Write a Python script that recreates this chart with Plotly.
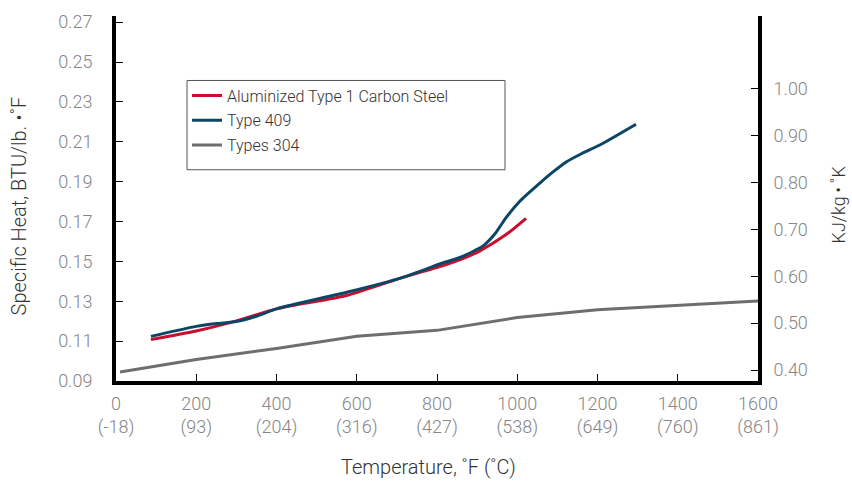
import plotly.graph_objects as go

# ---------------- data ----------------
temp_f_ticks = [0, 200, 400, 600, 800, 1000, 1200, 1400, 1600]
temp_c_labels = ["(-18)", "(93)", "(204)", "(316)", "(427)", "(538)", "(649)", "(760)", "(861)"]
btu_ticks = [0.09, 0.11, 0.13, 0.15, 0.17, 0.19, 0.21, 0.23, 0.25, 0.27]
kj_ticks = [0.40, 0.50, 0.60, 0.70, 0.80, 0.90, 1.00]

alum_x = [87, 200, 287, 402, 575, 715, 807, 860, 907, 974, 1022]
alum_y = [0.1108, 0.1151, 0.1194, 0.1263, 0.1329, 0.1420, 0.1474, 0.1510, 0.1553, 0.1637, 0.1716]

t409_x = [87, 200, 250, 300, 350, 402, 575, 715, 807, 860, 915, 945, 973, 1007, 1057, 1090,
          1123, 1160, 1207, 1296]
t409_y = [0.1124, 0.1174, 0.1188, 0.1198, 0.1225, 0.1263, 0.1345, 0.1420, 0.1487, 0.1522,
          0.1578, 0.1640, 0.1722, 0.1803, 0.1894, 0.1950, 0.2000, 0.2040, 0.2085, 0.2188]

t304_x = [10, 200, 400, 600, 800, 1000, 1200, 1400, 1600]
t304_y = [0.0945, 0.1008, 0.1063, 0.1124, 0.1154, 0.1218, 0.1257, 0.1279, 0.1301]

# ---------------- geometry ----------------
W, H = 852, 483
L, R, T, B = 116, 94, 13, 102
PW, PH = W - L - R, H - T - B


def px(xp):
    return (xp - L) / PW


def py(yp):
    return (H - B - yp) / PH


FONT = "Roboto, 'Liberation Sans', Arial, sans-serif"
TICK_COLOR = "#868686"
TEXT_COLOR = "#333333"

fig = go.Figure()
fig.add_trace(go.Scatter(x=alum_x, y=alum_y, mode="lines", name="Aluminized Type 1 Carbon Steel",
                         line=dict(color="#c8102e", width=3, shape="spline", smoothing=0.6),
                         legendgroup="a"))
fig.add_trace(go.Scatter(x=t409_x, y=t409_y, mode="lines", name="Type 409",
                         line=dict(color="#0b4664", width=3, shape="spline", smoothing=0.6),
                         legendgroup="b"))
fig.add_trace(go.Scatter(x=t304_x, y=t304_y, mode="lines", name="Types 304",
                         line=dict(color="#6e6e70", width=3),
                         legendgroup="c"))
# secondary (kJ/kg·K) axis carrier, no marks
fig.add_trace(go.Scatter(x=[], y=[], yaxis="y2", mode="lines", showlegend=False,
                         hoverinfo="skip"))

fig.update_layout(
    width=W, height=H,
    margin=dict(l=L, r=R, t=T, b=B),
    paper_bgcolor="white", plot_bgcolor="white",
    font=dict(family=FONT, color=TEXT_COLOR),
    xaxis=dict(range=[0, 1600], tickvals=temp_f_ticks,
               ticktext=[f"{v}<br>{c}" for v, c in zip(temp_f_ticks, temp_c_labels)],
               ticks="inside", ticklen=7, tickwidth=1, tickcolor="black",
               showline=True, linewidth=4, linecolor="black",
               showgrid=False, zeroline=False,
               tickfont=dict(size=18, color=TICK_COLOR, weight=300),
               ticklabelstandoff=3),
    yaxis=dict(range=[0.09, 0.2731], tickvals=btu_ticks,
               ticktext=[f"{v:.2f}" for v in btu_ticks],
               ticks="inside", ticklen=7, tickwidth=1, tickcolor="black",
               showline=True, linewidth=4, linecolor="black",
               showgrid=False, zeroline=False,
               tickfont=dict(size=18, color=TICK_COLOR, weight=300),
               ticklabelstandoff=16),
    yaxis2=dict(range=[0.3768, 1.1542], tickvals=kj_ticks,
                ticktext=[f"{v:.2f}" for v in kj_ticks],
                overlaying="y", side="right",
                ticks="inside", ticklen=7, tickwidth=1, tickcolor="black",
                showline=True, linewidth=4, linecolor="black",
                showgrid=False, zeroline=False,
                tickfont=dict(size=18, color=TICK_COLOR, weight=300),
                ticklabelstandoff=8),
    legend=dict(x=px(187), y=py(76), xanchor="left", yanchor="top",
                bgcolor="rgba(0,0,0,0)", borderwidth=0,
                font=dict(size=16, color=TEXT_COLOR, weight=300),
                tracegroupgap=1),
    shapes=[dict(type="rect", xref="paper", yref="paper",
                 x0=px(187), x1=px(505), y0=py(78), y1=py(168),
                 line=dict(color="#555555", width=1), fillcolor="rgba(0,0,0,0)")],
    annotations=[
        dict(text="Specific Heat, BTU/lb. •˚F", xref="paper", yref="paper",
             x=px(19), y=py(205), textangle=-90, showarrow=False,
             xanchor="center", yanchor="middle",
             font=dict(size=20, color=TEXT_COLOR, weight=300)),
        dict(text="KJ/kg\u2009•\u2009˚K", xref="paper", yref="paper",
             x=px(838), y=py(203), textangle=-90, showarrow=False,
             xanchor="center", yanchor="middle",
             font=dict(size=18, color=TEXT_COLOR, weight=300)),
        dict(text="Temperature, ˚F (˚C)", xref="paper", yref="paper",
             x=px(428), y=py(468), showarrow=False,
             xanchor="center", yanchor="middle",
             font=dict(size=20, color=TEXT_COLOR, weight=300)),
    ],
)

fig.write_html("out.html", config={"displayModeBar": False},
               post_script="document.body.style.margin='0';document.body.style.overflow='hidden';")
